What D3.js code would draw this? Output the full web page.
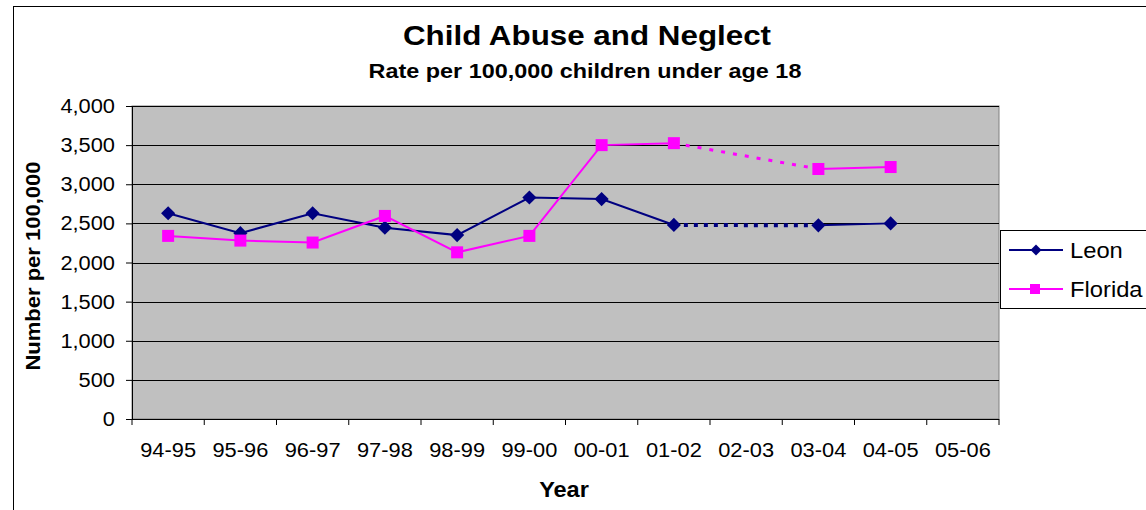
<!DOCTYPE html>
<html><head><meta charset="utf-8">
<script src="https://cdn.jsdelivr.net/npm/d3@7"></script>
<style>body{margin:0;background:#fff}svg{display:block;font-family:"Liberation Sans",Arial,sans-serif}</style>
</head><body><svg id="c" width="1146" height="510"></svg>
<script>
const categories = ["94-95","95-96","96-97","97-98","98-99","99-00","00-01","01-02","02-03","03-04","04-05","05-06"];
const leon    = [2630, 2375, 2630, 2445, 2350, 2830, 2810, 2480, null, 2475, 2500, null];
const florida = [2340, 2280, 2255, 2595, 2130, 2340, 3500, 3525, null, 3195, 3220, null];
const yTicks = [0,500,1000,1500,2000,2500,3000,3500,4000];
const seriesNames = ["Leon","Florida"];

const svg = d3.select("#c");
const L=132, R=999, T=106, B=419;
const x = d3.scaleBand().domain(categories).range([L,R]);
const y = d3.scaleLinear().domain([0,4000]).range([B,T]);

function txt(parent, tx, ty, str, size, sx, anchor, bold, rot){
  return parent.append("text")
    .attr("transform",`translate(${tx},${ty})${rot?` rotate(${rot})`:""} scale(${sx},1)`)
    .attr("text-anchor",anchor).attr("font-size",size)
    .attr("font-weight",bold?"bold":"normal").attr("fill","#000").text(str);
}

// chart border
svg.append("rect").attr("x",13.5).attr("y",6.5).attr("width",1200).attr("height",600).attr("fill","#fff").attr("stroke","#000");

// plot area
svg.append("rect").attr("x",L).attr("y",T).attr("width",R-L).attr("height",B-T).attr("fill","#C0C0C0").attr("stroke","#808080");

// gridlines
svg.append("g").selectAll("line").data(yTicks.filter(d=>d>0)).join("line")
  .attr("x1",L).attr("x2",R).attr("y1",d=>Math.round(y(d))+0.5).attr("y2",d=>Math.round(y(d))+0.5)
  .attr("stroke","#000").attr("stroke-width",1);

// y axis
const yAxis = d3.axisLeft(y).tickValues(yTicks).tickSize(6).tickFormat("");
const gy = svg.append("g").attr("transform",`translate(${L},0)`).call(yAxis);
gy.select(".domain").attr("stroke","#000");
gy.selectAll(".tick line").attr("stroke","#000");
const fmt = d3.format(",");
yTicks.forEach(v=>txt(svg, 115, y(v)+7, fmt(v), 19.5, 1.12, "end", false));

// x axis with ticks at band boundaries
const gx = svg.append("g").attr("transform",`translate(0,${B})`);
gx.append("line").attr("x1",L).attr("x2",R).attr("y1",0.5).attr("y2",0.5).attr("stroke","#000");
const bounds = categories.map(c=>x(c)).concat([R]);
gx.selectAll("line.t").data(bounds).join("line").attr("class","t")
  .attr("x1",d=>d).attr("x2",d=>d).attr("y1",0).attr("y2",6).attr("stroke","#000");
categories.forEach(c=>txt(gx, x(c)+x.bandwidth()/2, 38, c, 19.5, 1.12, "middle", false));

// titles
txt(svg, 587, 45, "Child Abuse and Neglect", 28, 1.12, "middle", true);
txt(svg, 585, 78, "Rate per 100,000 children under age 18", 20, 1.17, "middle", true);
txt(svg, 564, 497, "Year", 22, 1.07, "middle", true);
txt(svg, 40, 266, "Number per 100,000", 20, 1.1, "middle", true, -90);

const cx = c => x(c)+x.bandwidth()/2;
function drawSeries(vals, color, marker, dotDash, dotWidth){
  const pts = vals.map((v,i)=>({c:categories[i],v}));
  const line = d3.line().defined(d=>d.v!=null).x(d=>cx(d.c)).y(d=>y(d.v));
  svg.append("path").datum(pts).attr("d",line).attr("fill","none").attr("stroke",color).attr("stroke-width",2);
  const valid = pts.filter(d=>d.v!=null);
  for(let i=0;i<valid.length-1;i++){
    const a=valid[i], b=valid[i+1];
    if(categories.indexOf(b.c)-categories.indexOf(a.c)>1){
      svg.append("line").attr("x1",cx(a.c)).attr("y1",y(a.v)).attr("x2",cx(b.c)).attr("y2",y(b.v))
        .attr("stroke",color).attr("stroke-width",dotWidth).attr("stroke-dasharray",dotDash);
    }
  }
  const g = svg.append("g");
  valid.forEach(d=>{
    if(marker==="diamond"){
      g.append("path").attr("d",d3.symbol(d3.symbolSquare,100)()).attr("transform",`translate(${cx(d.c)},${y(d.v)}) rotate(45)`).attr("fill",color);
    } else {
      g.append("rect").attr("x",cx(d.c)-6).attr("y",y(d.v)-6).attr("width",12).attr("height",12).attr("fill",color);
    }
  });
}
drawSeries(leon,"#000080","diamond","4,6",4);
drawSeries(florida,"#FF00FF","square","4,8",3);

// legend
const lg = svg.append("g");
lg.append("rect").attr("x",1000.5).attr("y",230.5).attr("width",200).attr("height",78).attr("fill","#fff").attr("stroke","#000");
[["Leon","#000080","diamond",250],["Florida","#FF00FF","square",289]].forEach(([n,c,m,yy])=>{
  lg.append("line").attr("x1",1009).attr("x2",1063).attr("y1",yy).attr("y2",yy).attr("stroke",c).attr("stroke-width",2);
  if(m==="diamond") lg.append("path").attr("d",d3.symbol(d3.symbolSquare,60)()).attr("transform",`translate(1036,${yy}) rotate(45)`).attr("fill",c);
  else lg.append("rect").attr("x",1030).attr("y",yy-5).attr("width",10).attr("height",10).attr("fill",c);
  txt(lg, 1070, yy+8, n, 22, 1.08, "start", false);
});
</script></body></html>
